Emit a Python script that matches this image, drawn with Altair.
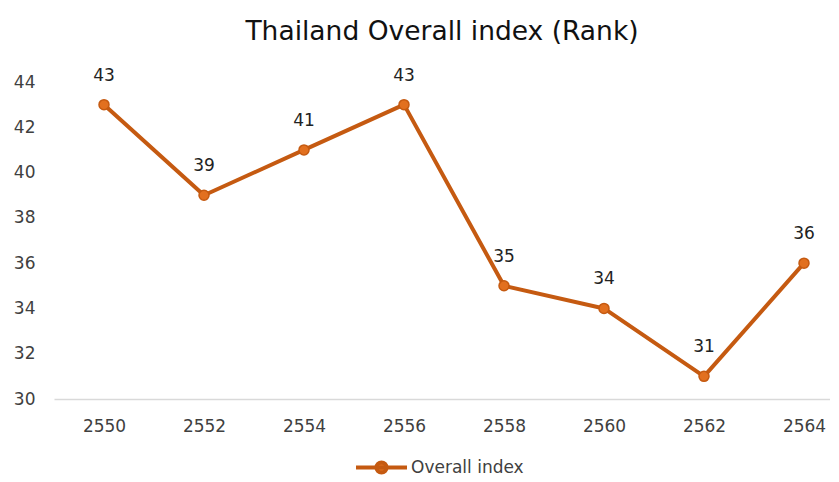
import altair as alt
import pandas as pd

years = [2550, 2552, 2554, 2556, 2558, 2560, 2562, 2564]
ranks = [43, 39, 41, 43, 35, 34, 31, 36]
series = ["Overall index"] * len(years)
x_ticks = [2550, 2552, 2554, 2556, 2558, 2560, 2562, 2564]
y_ticks = [30, 32, 34, 36, 38, 40, 42, 44]

df = pd.DataFrame({"year": years, "rank": ranks, "series": series})

LINE = "#C55A11"
FILL = "#E2701F"
FONT = "DejaVu Sans"

x_enc = alt.X("year:Q", scale=alt.Scale(domain=[2549, 2564.52], nice=False, zero=False),
              axis=alt.Axis(values=x_ticks, format="d", title=None, grid=False, ticks=False,
                            domain=True, domainColor="#D9D9D9", domainWidth=1.3,
                            labelPadding=19, labelFontSize=17, labelFont=FONT,
                            labelColor="#404040"))
y_enc = alt.Y("rank:Q", scale=alt.Scale(domain=[30, 44], nice=False, zero=False),
              axis=alt.Axis(values=y_ticks, title=None, grid=False, ticks=False, domain=False,
                            labelPadding=19, labelFontSize=17, labelFont=FONT,
                            labelColor="#404040"))

color_enc = alt.Color("series:N", scale=alt.Scale(range=[LINE]),
                      legend=alt.Legend(title=None, orient="none", legendX=300, legendY=358,
                                        labelFont=FONT, labelFontSize=17, labelColor="#404040",
                                        symbolType="M-1,0L1,0M0.2,0A0.2,0.2,0,1,1,-0.2,0A0.2,0.2,0,1,1,0.2,0",
                                        symbolSize=2600, symbolStrokeWidth=4,
                                        symbolFillColor=FILL, symbolStrokeColor=LINE,
                                        labelOffset=2))

base = alt.Chart(df)
line = base.mark_line(strokeWidth=4, strokeJoin="round").encode(x=x_enc, y=y_enc, color=color_enc)
pts = base.mark_point(filled=True, size=100, fill=FILL, stroke=LINE, strokeWidth=1.5, opacity=1).encode(
    x="year:Q", y="rank:Q")
labels = base.mark_text(dy=-29, fontSize=17, font=FONT, color="#222222").encode(
    x="year:Q", y="rank:Q", text="rank:Q")

chart = (line + pts + labels).properties(
    width=776, height=317,
    title=alt.TitleParams("Thailand Overall index (Rank)", font=FONT, fontSize=26.5,
                          fontWeight="normal", color="#111111", anchor="middle", offset=21),
    autosize=alt.AutoSizeParams(type="none"),
    padding={"left": 46, "top": 74, "right": 0, "bottom": 78},
).configure_view(stroke=None)

chart.save("out.html", embed_options={"renderer": "svg", "actions": False})
